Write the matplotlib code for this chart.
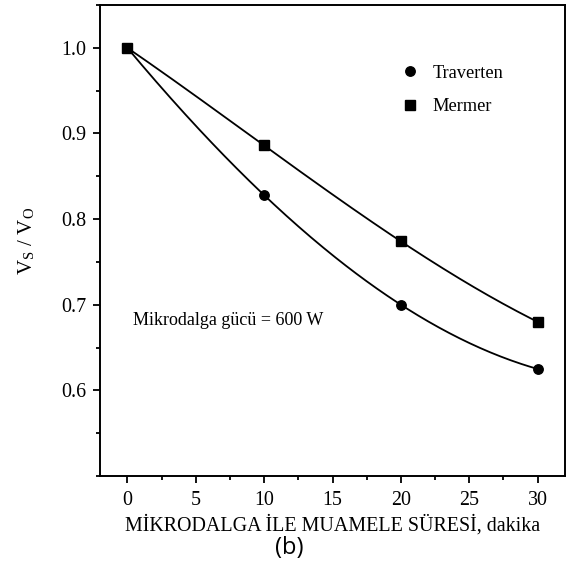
import numpy as np
import matplotlib
matplotlib.use("Agg")
import matplotlib.pyplot as plt
from matplotlib.ticker import MultipleLocator

plt.rcParams["font.family"] = "Liberation Serif"
plt.rcParams["mathtext.fontset"] = "stix"

sure = [0, 10, 20, 30]
traverten = [1.0, 0.828, 0.700, 0.625]
mermer = [1.0, 0.886, 0.774, 0.680]

fig = plt.figure(figsize=(5.72, 5.77), dpi=100)
ax = fig.add_axes([0.1748, 0.175, 0.8130, 0.8163])

x_fine = np.linspace(min(sure), max(sure), 200)
for y, marker, label in ((traverten, "o", "Traverten"), (mermer, "s", "Mermer")):
    # smooth curve through the measured points
    coef = np.polyfit(sure, y, 3)
    ax.plot(x_fine, np.polyval(coef, x_fine), color="black", linewidth=1.3)
    ax.plot(sure, y, linestyle="none", marker=marker, color="black",
            markersize=6.8, label=label)

ax.set_xlim(-2, 32)
ax.set_ylim(0.5, 1.05)
ax.set_yticks([0.6, 0.7, 0.8, 0.9, 1.0])
ax.xaxis.set_major_locator(MultipleLocator(5))
ax.xaxis.set_minor_locator(MultipleLocator(2.5))
ax.yaxis.set_minor_locator(MultipleLocator(0.05))
ax.yaxis.set_major_formatter(matplotlib.ticker.FormatStrFormatter("%.1f"))
ax.tick_params(which="major", direction="out", length=5, width=1.3, labelsize=14.4)
ax.tick_params(axis="x", which="major", pad=6)
ax.tick_params(axis="y", which="major", pad=5)
ax.tick_params(which="minor", direction="out", length=3, width=1.3)
for s in ax.spines.values():
    s.set_linewidth(1.4)

ax.set_xlabel("MİKRODALGA İLE MUAMELE SÜRESİ, dakika", fontsize=14.4, labelpad=3)
ax.set_ylabel(r"V$_\mathregular{S}$ / V$_\mathregular{O}$", fontsize=15, labelpad=17)

ax.text(0.45, 0.6815, "Mikrodalga gücü = 600 W", fontsize=13, va="center", ha="left")

ax.legend(loc="upper left", bbox_to_anchor=(0.611, 0.908), frameon=False,
          fontsize=13.2, handlelength=1.0, handletextpad=0.75, labelspacing=0.9)

fig.text(289 / 572, 1 - 548 / 577, "(b)", family="Open Sans", fontsize=17,
         ha="center", va="center")

fig.savefig("out.png", dpi=100)
